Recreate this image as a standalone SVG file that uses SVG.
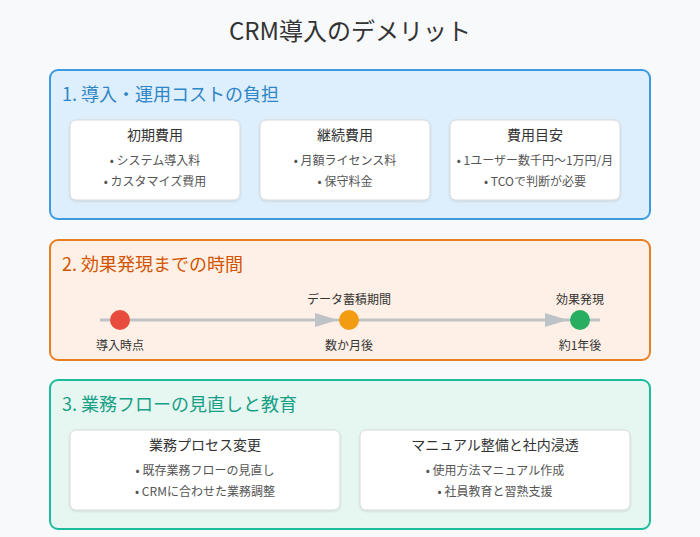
<svg xmlns="http://www.w3.org/2000/svg" width="700" height="537" viewBox="0 0 700 537">
<defs>
<filter id="sh" x="-10%" y="-10%" width="120%" height="130%"><feDropShadow dx="0" dy="1" stdDeviation="1.2" flood-color="#000" flood-opacity="0.12"/></filter>
<style>
text{font-family:"Noto Sans CJK JP","Noto Sans",sans-serif}
.title{font-size:24px;fill:#333;text-anchor:middle}
.sec{font-size:18px}
.card{fill:#fff;stroke:#d5d9dd;stroke-width:1;filter:url(#sh)}
.ct{font-size:14px;fill:#333;text-anchor:middle}
.b{font-size:12px;fill:#555;text-anchor:middle}
.tl{font-size:12px;fill:#333;text-anchor:middle}
</style>
</defs>
<rect width="700" height="537" fill="#f8f9fa"/>
<text class="title" x="350" y="40">CRM導入のデメリット</text>

<g id="section1">
<rect x="50" y="70" width="600" height="149" rx="8" fill="#ddeefc" stroke="#3b9ae0" stroke-width="2"/>
<text class="sec" x="62" y="101" fill="#2e86c8">1. 導入・運用コストの負担</text>
</g>
<g id="card-initial">
<rect class="card" x="70" y="120" width="170" height="80" rx="6"/>
<text class="ct" x="155" y="140">初期費用</text>
<text class="b" x="155" y="165">• システム導入料</text>
<text class="b" x="155" y="186">• カスタマイズ費用</text>
</g>
<g id="card-running">
<rect class="card" x="260" y="120" width="170" height="80" rx="6"/>
<text class="ct" x="345" y="140">継続費用</text>
<text class="b" x="345" y="165">• 月額ライセンス料</text>
<text class="b" x="345" y="186">• 保守料金</text>
</g>
<g id="card-estimate">
<rect class="card" x="450" y="120" width="170" height="80" rx="6"/>
<text class="ct" x="535" y="140">費用目安</text>
<text class="b" x="535" y="165">• 1ユーザー数千円～1万円/月</text>
<text class="b" x="535" y="186">• TCOで判断が必要</text>
</g>

<g id="section2">
<rect x="50" y="240" width="600" height="120" rx="8" fill="#fef0e6" stroke="#e67e22" stroke-width="2"/>
<text class="sec" x="62" y="271" fill="#d35400">2. 効果発現までの時間</text>
</g>
<g id="connectors">
<line x1="100" y1="320" x2="600" y2="320" stroke="#bdc3c7" stroke-width="3"/>
<polygon points="315,313 338,320 315,327" fill="#bdc3c7"/>
<polygon points="545,313 568,320 545,327" fill="#bdc3c7"/>
</g>
<g id="t-start">
<circle cx="120" cy="320" r="10" fill="#e74c3c"/>
<text class="tl" x="120" y="350">導入時点</text>
</g>
<g id="t-middle">
<circle cx="349" cy="320" r="10" fill="#f39c12"/>
<text class="tl" x="349" y="304">データ蓄積期間</text>
<text class="tl" x="349" y="350">数か月後</text>
</g>
<g id="t-end">
<circle cx="580" cy="320" r="10" fill="#27ae60"/>
<text class="tl" x="580" y="304">効果発現</text>
<text class="tl" x="580" y="350">約1年後</text>
</g>

<g id="section3">
<rect x="50" y="380" width="600" height="149" rx="8" fill="#e6f6f1" stroke="#1abc9c" stroke-width="2"/>
<text class="sec" x="62" y="411" fill="#16a085">3. 業務フローの見直しと教育</text>
</g>
<g id="card-process">
<rect class="card" x="70" y="430" width="270" height="80" rx="6"/>
<text class="ct" x="205" y="450">業務プロセス変更</text>
<text class="b" x="205" y="475">• 既存業務フローの見直し</text>
<text class="b" x="205" y="496">• CRMに合わせた業務調整</text>
</g>
<g id="card-manual">
<rect class="card" x="360" y="430" width="270" height="80" rx="6"/>
<text class="ct" x="495" y="450">マニュアル整備と社内浸透</text>
<text class="b" x="495" y="475">• 使用方法マニュアル作成</text>
<text class="b" x="495" y="496">• 社員教育と習熟支援</text>
</g>
</svg>
